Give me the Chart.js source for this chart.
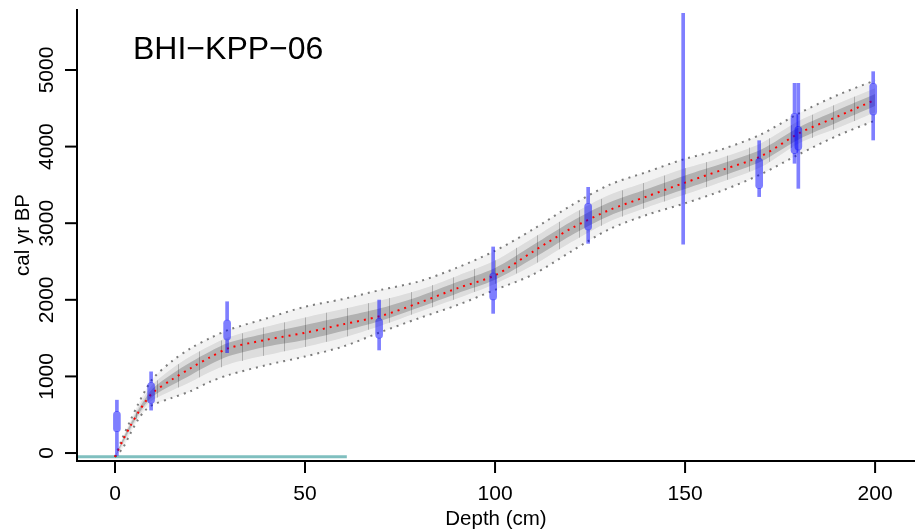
<!DOCTYPE html>
<html lang="en">
<head>
    <meta charset="UTF-8">
    <title>BHI-KPP-06 age-depth model</title>
    <script src="https://cdn.jsdelivr.net/npm/chart.js"></script>
    <style>
        body { margin: 0; background: #fff; }
    </style>
</head>
<body>
    <canvas id="ageDepth" width="916" height="531"></canvas>

    <script>
        // Age-depth model (depth in cm, age in cal yr BP)
        const depth = [0, 2, 4, 6, 8, 10, 15, 20, 25, 30, 40, 50, 60, 70, 80, 90, 100, 110, 120, 130, 140, 150, 160, 170, 180, 190, 200];
        const meanAge = [-50, 160, 350, 520, 670, 790, 960, 1110, 1250, 1370, 1480, 1570, 1680, 1790, 1960, 2150, 2320, 2630, 2930, 3170, 3350, 3530, 3700, 3875, 4175, 4390, 4610];
        const upperAge = [-50, 200, 420, 630, 820, 975, 1200, 1370, 1500, 1610, 1760, 1910, 2010, 2130, 2240, 2420, 2640, 2920, 3230, 3500, 3670, 3840, 3970, 4160, 4435, 4670, 4865];
        const lowerAge = [-50, 60, 250, 430, 560, 630, 720, 810, 930, 1020, 1150, 1260, 1390, 1580, 1760, 1930, 2130, 2330, 2630, 2920, 3110, 3260, 3430, 3640, 3900, 4140, 4340];
        // darker parts of the grey envelope
        const midHigh = [-50, 184, 392, 586, 760, 901, 1104, 1266, 1400, 1514, 1652, 1770, 1880, 1994, 2128, 2312, 2512, 2806, 3110, 3368, 3542, 3716, 3862, 4045, 4336, 4558, 4762];
        const midLow = [-50, 100, 290, 466, 604, 694, 816, 930, 1058, 1160, 1278, 1384, 1506, 1662, 1840, 2018, 2208, 2450, 2750, 3020, 3206, 3374, 3544, 3733, 4045, 4240, 4446];
        const innerHigh = [-50, 172, 371, 553, 715, 846, 1032, 1188, 1325, 1442, 1564, 1672, 1778, 1892, 2044, 2231, 2416, 2716, 3020, 3269, 3446, 3623, 3781, 3961, 4253, 4474, 4687];
        const innerLow = [-50, 130, 320, 493, 637, 742, 888, 1020, 1154, 1265, 1391, 1477, 1593, 1727, 1900, 2084, 2262, 2540, 2840, 3095, 3277, 3446, 3619, 3805, 4097, 4315, 4529];
        // model section boundaries
        const sectionDepths = [5.6, 11.1, 16.7, 22.2, 27.8, 33.3, 38.9, 44.4, 50, 55.6, 61.1, 66.7, 72.2, 77.8, 83.3, 88.9, 94.4, 100, 105.6, 111.1, 116.7, 122.2, 127.8, 133.3, 138.9, 144.4, 150, 155.6, 161.1, 166.7, 172.2, 177.8, 183.3, 188.9, 194.4];

        // calibrated dates
        const dateDepth = [0.5, 9.5, 29.5, 69.5, 99.5, 124.5, 149.5, 169.5, 178.8, 179.8, 199.5];
        const dateMin = [-30, 560, 1310, 1345, 1823, 2737, 2725, 3347, 3782, 3455, 4086];
        const dateCoreMin = [280, 650, 1475, 1500, 2000, 2911, null, 3455, 3912, 3956, 4413];
        const dateCoreMax = [540, 920, 1736, 1755, 2350, 3260, null, 3847, 4435, 4260, 4826];
        const dateMax = [690, 1060, 1975, 1997, 2690, 3468, 5740, 4077, 4826, 4826, 4978];

        const hiatusDepth = [-10, 61];
        const hiatusAge = [-50, -50];

        const xTicks = [0, 50, 100, 150, 200];
        const yTicks = [0, 1000, 2000, 3000, 4000, 5000];

        const pts = (ys) => depth.map((d, i) => ({ x: d, y: ys[i] }));

        const tails = [];
        const cores = [];
        dateDepth.forEach((d, i) => {
            if (dateCoreMin[i] === null) {
                tails.push({ x: d, y: [dateMin[i], dateMax[i]] });
            } else {
                tails.push({ x: d, y: [dateMin[i], dateCoreMin[i]] });
                tails.push({ x: d, y: [dateCoreMax[i], dateMax[i]] });
                cores.push({ x: d, y: [dateCoreMin[i], dateCoreMax[i]] });
            }
        });

        const band = (data, order, fill, color) => ({
            data: pts(data), order, fill, backgroundColor: color,
            borderWidth: 0, pointRadius: 0, tension: 0.3
        });

        // vertical section lines, clipped to the darker part of the envelope
        const sectionPlugin = {
            id: 'sections',
            afterDatasetDraw(chart, args) {
                if (args.index !== 10) return;
                const { ctx, chartArea, scales: { x } } = chart;
                const hi = chart.getDatasetMeta(8).data;
                const lo = chart.getDatasetMeta(9).data;
                ctx.save();
                ctx.beginPath();
                hi.forEach((p, i) => i ? ctx.lineTo(p.x, p.y) : ctx.moveTo(p.x, p.y));
                for (let i = lo.length - 1; i >= 0; i--) ctx.lineTo(lo[i].x, lo[i].y);
                ctx.closePath();
                ctx.clip();
                ctx.strokeStyle = 'rgba(0,0,0,0.22)';
                ctx.lineWidth = 1;
                sectionDepths.forEach(d => {
                    const px = Math.round(x.getPixelForValue(d)) + 0.5;
                    ctx.beginPath();
                    ctx.moveTo(px, chartArea.top);
                    ctx.lineTo(px, chartArea.bottom);
                    ctx.stroke();
                });
                ctx.restore();
            }
        };

        // R style axes, ticks and labels
        const axesPlugin = {
            id: 'rAxes',
            afterDraw(chart) {
                const { ctx, chartArea: a, scales: { x, y } } = chart;
                ctx.save();
                ctx.strokeStyle = '#000';
                ctx.fillStyle = '#000';
                ctx.lineWidth = 2;
                ctx.beginPath();
                ctx.moveTo(a.left, a.top);
                ctx.lineTo(a.left, a.bottom);
                ctx.lineTo(a.right, a.bottom);
                ctx.stroke();

                ctx.font = '21px "Liberation Sans", Arial, sans-serif';
                ctx.textAlign = 'center';
                ctx.textBaseline = 'alphabetic';
                xTicks.forEach(t => {
                    const px = x.getPixelForValue(t);
                    ctx.beginPath();
                    ctx.moveTo(px, a.bottom);
                    ctx.lineTo(px, a.bottom + 12);
                    ctx.stroke();
                    ctx.fillText(String(t), px, 500);
                });
                yTicks.forEach(t => {
                    const py = y.getPixelForValue(t);
                    ctx.beginPath();
                    ctx.moveTo(a.left, py);
                    ctx.lineTo(a.left - 12, py);
                    ctx.stroke();
                    ctx.save();
                    ctx.translate(53, py);
                    ctx.rotate(-Math.PI / 2);
                    ctx.fillText(String(t), 0, 0);
                    ctx.restore();
                });

                ctx.font = '20.5px "Liberation Sans", Arial, sans-serif';
                ctx.fillText('Depth (cm)', (a.left + a.right) / 2, 525);
                ctx.save();
                ctx.translate(29, (a.top + a.bottom) / 2);
                ctx.rotate(-Math.PI / 2);
                ctx.fillText('cal yr BP', 0, 0);
                ctx.restore();

                ctx.font = '32px "Liberation Sans", Arial, sans-serif';
                ctx.textAlign = 'left';
                ctx.fillText('BHI\u2212KPP\u221206', 133, 59);
                ctx.restore();
            }
        };

        new Chart(document.getElementById('ageDepth'), {
            type: 'line',
            data: {
                datasets: [
                    { type: 'bar', data: cores, order: 1, grouped: false, barThickness: 7, borderRadius: 4,
                      borderSkipped: false, backgroundColor: 'rgba(0,0,255,0.5)', borderWidth: 0 },
                    { type: 'bar', data: tails, order: 2, grouped: false, barThickness: 3,
                      backgroundColor: 'rgba(0,0,255,0.5)', borderWidth: 0 },
                    { data: pts(meanAge), order: 3, borderColor: 'red', borderWidth: 2, borderDash: [2, 5],
                      pointRadius: 0, tension: 0.3, fill: false },
                    { data: pts(upperAge), order: 4, borderColor: 'rgba(0,0,0,0.5)', borderWidth: 2, borderDash: [2, 5],
                      pointRadius: 0, tension: 0.3, fill: false },
                    { data: pts(lowerAge), order: 4, borderColor: 'rgba(0,0,0,0.5)', borderWidth: 2, borderDash: [2, 5],
                      pointRadius: 0, tension: 0.3, fill: false },
                    { data: hiatusDepth.map((d, i) => ({ x: d, y: hiatusAge[i] })), order: 5,
                      borderColor: 'rgba(0,128,128,0.5)', borderWidth: 3, pointRadius: 0, fill: false },
                    band(upperAge, 20, 7, 'rgba(0,0,0,0.05)'),
                    band(lowerAge, 21, false, 'transparent'),
                    band(midHigh, 18, 9, 'rgba(0,0,0,0.09)'),
                    band(midLow, 19, false, 'transparent'),
                    band(innerHigh, 16, 11, 'rgba(0,0,0,0.2)'),
                    band(innerLow, 17, false, 'transparent')
                ]
            },
            options: {
                responsive: false,
                animation: false,
                layout: { padding: { left: 77, top: 9, right: 1, bottom: 70 } },
                plugins: { legend: { display: false }, tooltip: { enabled: false } },
                scales: {
                    x: { type: 'linear', display: false, min: -10, max: 210.5, offset: false },
                    y: { type: 'linear', display: false, min: -104, max: 5796 }
                }
            },
            plugins: [sectionPlugin, axesPlugin]
        });
    </script>
</body>
</html>
